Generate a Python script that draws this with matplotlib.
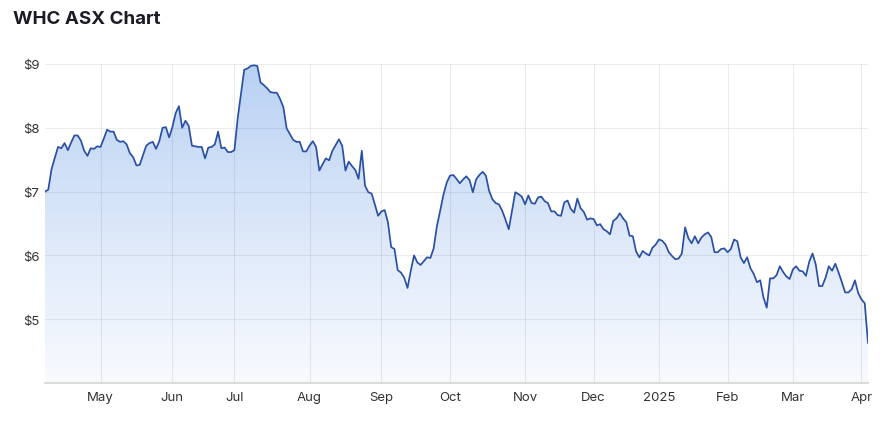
import matplotlib
matplotlib.use("Agg")
import matplotlib.pyplot as plt
import numpy as np
from matplotlib.patches import Polygon
from matplotlib.colors import LinearSegmentedColormap

# Daily closing prices (trading-day index)
prices = [
    7.00, 7.03, 7.35, 7.53, 7.70, 7.68, 7.76, 7.65, 7.77, 7.88,
    7.88, 7.80, 7.64, 7.56, 7.68, 7.67, 7.71, 7.70, 7.83, 7.97,
    7.94, 7.94, 7.81, 7.78, 7.79, 7.74, 7.60, 7.54, 7.41, 7.42,
    7.57, 7.72, 7.76, 7.78, 7.67, 7.79, 8.00, 8.01, 7.85, 8.01,
    8.23, 8.34, 8.00, 8.11, 8.03, 7.72, 7.71, 7.70, 7.70, 7.52,
    7.69, 7.70, 7.74, 7.94, 7.68, 7.69, 7.62, 7.62, 7.65, 8.15,
    8.53, 8.91, 8.93, 8.97, 8.98, 8.97, 8.71, 8.67, 8.62, 8.56,
    8.55, 8.55, 8.45, 8.32, 7.99, 7.90, 7.81, 7.78, 7.78, 7.63,
    7.63, 7.72, 7.79, 7.70, 7.33, 7.43, 7.52, 7.49, 7.64, 7.73,
    7.82, 7.72, 7.33, 7.47, 7.40, 7.34, 7.20, 7.64, 7.09, 6.99,
    6.97, 6.80, 6.62, 6.69, 6.71, 6.52, 6.13, 6.10, 5.77, 5.73,
    5.65, 5.49, 5.76, 6.00, 5.89, 5.85, 5.91, 5.97, 5.96, 6.11,
    6.46, 6.70, 6.95, 7.14, 7.25, 7.26, 7.20, 7.13, 7.19, 7.24,
    7.18, 6.99, 7.19, 7.26, 7.31, 7.25, 7.01, 6.88, 6.82, 6.80,
    6.70, 6.56, 6.41, 6.70, 6.99, 6.96, 6.92, 6.80, 6.94, 6.82,
    6.81, 6.91, 6.92, 6.85, 6.82, 6.69, 6.69, 6.63, 6.62, 6.83,
    6.86, 6.73, 6.67, 6.89, 6.74, 6.68, 6.56, 6.58, 6.57, 6.47,
    6.49, 6.41, 6.38, 6.33, 6.54, 6.58, 6.66, 6.58, 6.52, 6.31,
    6.30, 6.06, 5.97, 6.07, 6.03, 6.00, 6.12, 6.17, 6.25, 6.23,
    6.17, 6.05, 5.99, 5.94, 5.95, 6.03, 6.44, 6.27, 6.19, 6.30,
    6.19, 6.28, 6.33, 6.36, 6.29, 6.05, 6.05, 6.10, 6.11, 6.05,
    6.10, 6.25, 6.22, 5.97, 5.88, 5.97, 5.80, 5.71, 5.58, 5.61,
    5.34, 5.18, 5.64, 5.64, 5.69, 5.83, 5.74, 5.67, 5.63, 5.78,
    5.83, 5.76, 5.75, 5.68, 5.90, 6.03, 5.86, 5.52, 5.52, 5.65,
    5.83, 5.76, 5.87, 5.73, 5.58, 5.42, 5.42, 5.47, 5.61, 5.41,
    5.31, 5.25, 4.63,
]

month_labels = ["May", "Jun", "Jul", "Aug", "Sep", "Oct", "Nov", "Dec",
                "2025", "Feb", "Mar", "Apr"]
month_index = [17, 39, 58, 81, 103, 124, 147, 168, 188, 209, 229, 250]

y_ticks = [5, 6, 7, 8, 9]
y_tick_labels = ["$5", "$6", "$7", "$8", "$9"]

title = "WHC ASX Chart"

plt.rcParams["font.family"] = ["Inter", "DejaVu Sans"]

W, H = 886, 427
fig = plt.figure(figsize=(W / 100, H / 100), dpi=100)
left, right, top, bottom = 45, 868, 65, 384
ax = fig.add_axes([left / W, 1 - bottom / H, (right - left) / W, (bottom - top) / H])

x = np.arange(len(prices))
y = np.array(prices)
ymin, ymax = 4.0, 9.0
ax.set_xlim(0, len(prices) - 1)
ax.set_ylim(ymin, ymax)

# gradient fill under the line
grad = np.linspace(0, 1, 256).reshape(-1, 1)
cmap = LinearSegmentedColormap.from_list("g", ["#f8fafe", "#dbe7f9", "#b8d1f3"])
im = ax.imshow(grad, extent=[0, len(prices) - 1, ymin, ymax], origin="lower",
               cmap=cmap, aspect="auto", zorder=1, interpolation="bilinear")
verts = np.vstack([np.column_stack([x, y]), [[x[-1], ymin], [x[0], ymin]]])
clip = Polygon(verts, closed=True, transform=ax.transData,
               facecolor="none", edgecolor="none")
ax.add_patch(clip)
im.set_clip_path(clip)

ax.plot(x, y, color="#2a50a6", lw=1.25, zorder=3, solid_joinstyle="round")

# grid & axes
ax.set_yticks(y_ticks)
ax.set_yticklabels(y_tick_labels)
ax.set_xticks(month_index)
ax.set_xticklabels(month_labels)
ax.set_axisbelow(False)
ax.grid(True, color="#000000", alpha=0.075, lw=0.8)
for s in ["top", "right", "left"]:
    ax.spines[s].set_visible(False)
ax.spines["bottom"].set_color("#d4d4d4")
ax.spines["bottom"].set_linewidth(1.2)
ax.spines["bottom"].set_zorder(4)
ax.tick_params(axis="both", length=0, labelsize=9.5, colors="#333333")
ax.tick_params(axis="x", pad=6)
ax.tick_params(axis="y", pad=4)

fig.text(13 / W, 1 - 20 / H, title, fontsize=13.5, fontweight="bold",
         color="#1b1b26", ha="left", va="center")

fig.savefig("out.png", dpi=100)
